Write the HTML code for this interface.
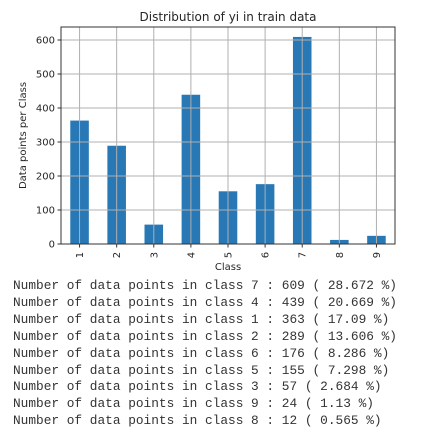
<!DOCTYPE html>
<html><head><meta charset="utf-8"><style>
body{margin:0;background:#fff;width:421px;height:438px;overflow:hidden;font-family:"DejaVu Sans",sans-serif}
svg{position:absolute;left:0;top:0;font-family:"DejaVu Sans",sans-serif}
pre{position:absolute;left:13px;top:278px;margin:0;font-family:"Liberation Mono",monospace;font-size:12.8px;line-height:16.9px;color:#333}
</style></head><body>
<svg width="421" height="275" id="chart"></svg>
<pre>Number of data points in class 7 : 609 ( 28.672 %)
Number of data points in class 4 : 439 ( 20.669 %)
Number of data points in class 1 : 363 ( 17.09 %)
Number of data points in class 2 : 289 ( 13.606 %)
Number of data points in class 6 : 176 ( 8.286 %)
Number of data points in class 5 : 155 ( 7.298 %)
Number of data points in class 3 : 57 ( 2.684 %)
Number of data points in class 9 : 24 ( 1.13 %)
Number of data points in class 8 : 12 ( 0.565 %)</pre>
<script>
const categories=["1","2","3","4","5","6","7","8","9"];
const counts=[363,289,57,439,155,176,609,12,24];
const yTicks=[0,100,200,300,400,500,600];
const NS="http://www.w3.org/2000/svg";
const svg=document.getElementById('chart');
const L=61,R=395,T=27,B=244;
const y=v=>B-v*(204/600);
const step=(R-L)/categories.length;
const x=i=>L+step*(i+0.5);
function mk(t,a,p){const e=document.createElementNS(NS,t);for(const k in a)e.setAttribute(k,a[k]);(p||svg).appendChild(e);return e;}
counts.forEach((v,i)=>{
 const b=mk('rect',{x:x(i)-step*0.25,y:y(v),width:step*0.5,height:B-y(v),fill:'#2878b5'});
 
 
});
yTicks.forEach(t=>{
 const g=mk('line',{x1:L,x2:R,y1:y(t),y2:y(t),stroke:'#b0b0b0','stroke-width':1});
 
 
 mk('line',{x1:L-3.5,x2:L,y1:y(t),y2:y(t),stroke:'#333'});
 const tx=mk('text',{x:L-6,y:y(t)+3.5,'text-anchor':'end','font-size':10,fill:'#262626'});
 tx.textContent=t;
 
 
});
categories.forEach((c,i)=>{
 const g=mk('line',{x1:x(i),x2:x(i),y1:T,y2:B,stroke:'#b0b0b0','stroke-width':1});
 
 
 mk('line',{x1:x(i),x2:x(i),y1:B,y2:B+3.5,stroke:'#333'});
 const tx=mk('text',{x:0,y:0,'text-anchor':'middle','font-size':10,fill:'#262626',transform:`translate(${x(i)+3.5},${B+11}) rotate(-90)`});
 tx.textContent=c;
 
 
});
const fr=mk('rect',{x:L,y:T,width:R-L,height:B-T,fill:'none',stroke:'#333','stroke-width':1});


const ti=mk('text',{x:(L+R)/2,y:21,'text-anchor':'middle','font-size':12,fill:'#262626'});
ti.textContent='Distribution of yi in train data';


const xl=mk('text',{x:(L+R)/2,y:270,'text-anchor':'middle','font-size':10,fill:'#262626'});
xl.textContent='Class';


const yl=mk('text',{x:0,y:0,'text-anchor':'middle','font-size':10,fill:'#262626',transform:`translate(26,${(T+B)/2}) rotate(-90)`});
yl.textContent='Data points per Class';


</script>
</body></html>
